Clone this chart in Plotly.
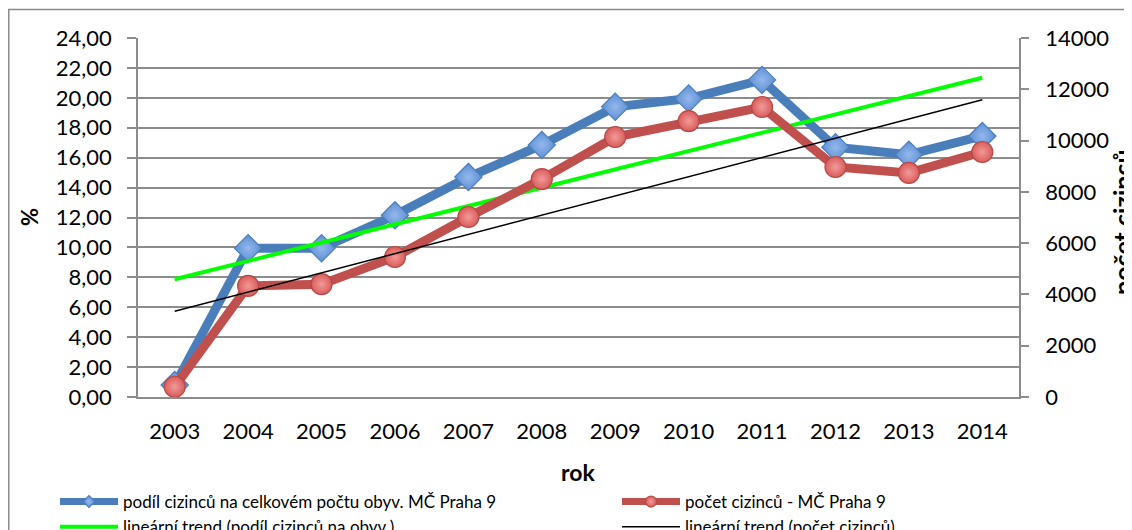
import numpy as np
import plotly.graph_objects as go

years = ["2003", "2004", "2005", "2006", "2007", "2008", "2009", "2010", "2011", "2012", "2013", "2014"]
podil = [0.80, 9.95, 9.95, 12.15, 14.70, 16.85, 19.40, 19.95, 21.20, 16.70, 16.20, 17.45]
pocet = [400, 4330, 4400, 5460, 7020, 8500, 10140, 10760, 11310, 8970, 8740, 9555]
left_ticks = [0, 2, 4, 6, 8, 10, 12, 14, 16, 18, 20, 22, 24]
right_ticks = [0, 2000, 4000, 6000, 8000, 10000, 12000, 14000]

name_podil = "podíl cizinců na celkovém počtu obyv. MČ Praha 9"
name_pocet = "počet cizinců - MČ Praha 9"
name_trend1 = "lineární trend (podíl cizinců na obyv.)"
name_trend2 = "lineární trend (počet cizinců)"

# linear trends (least squares) from the series
idx = np.arange(len(years))
k1, q1 = np.polyfit(idx, podil, 1)
k2, q2 = np.polyfit(idx, pocet, 1)
trend1 = [float(k1 * i + q1) for i in idx]
trend2 = [float(k2 * i + q2) for i in idx]

# page has an 8px body margin: figure is drawn from screen (8, 8)
OFF = 8
W, H = 1124, 522
L, R, T, B = 130, 113, 30, 133
PW, PH = W - L - R, H - T - B


def px(sx):
    return (sx - OFF - L) / PW


def py(sy):
    return (H - B - (sy - OFF)) / PH


FONT = "Lato, 'Open Sans', sans-serif"
GRID = "#8c8c8c"

blue_marker = dict(symbol="diamond", color="#5E8FD4",
                   gradient=dict(type="radial", color="#93B8EC"),
                   line=dict(color="#4A7EBB", width=1.2))
red_marker = dict(symbol="circle", color="#D85D5B",
                  gradient=dict(type="radial", color="#F29A98"),
                  line=dict(color="#B84845", width=1.2))

fig = go.Figure()
# data traces
fig.add_trace(go.Scatter(
    x=years, y=podil, name=name_podil, mode="lines+markers",
    line=dict(color="#4A7EBB", width=9), marker=dict(size=21, **blue_marker),
    yaxis="y", showlegend=False))
fig.add_trace(go.Scatter(
    x=years, y=pocet, name=name_pocet, mode="lines+markers",
    line=dict(color="#C0504D", width=9), marker=dict(size=21, **red_marker),
    yaxis="y2", showlegend=False))
fig.add_trace(go.Scatter(
    x=years, y=trend1, name=name_trend1, mode="lines",
    line=dict(color="#00FF00", width=4), yaxis="y", showlegend=False))
fig.add_trace(go.Scatter(
    x=years, y=trend2, name=name_trend2, mode="lines",
    line=dict(color="#000000", width=1.5), yaxis="y2", showlegend=False))

# legend entries (smaller legend symbols, as in the reference)
fig.add_trace(go.Scatter(x=[None], y=[None], name=name_podil, mode="lines+markers",
                         line=dict(color="#4A7EBB", width=7), marker=dict(size=9, **blue_marker),
                         legend="legend"))
fig.add_trace(go.Scatter(x=[None], y=[None], name=name_trend1, mode="lines",
                         line=dict(color="#00FF00", width=4), legend="legend"))
fig.add_trace(go.Scatter(x=[None], y=[None], name=name_pocet, mode="lines+markers",
                         line=dict(color="#C0504D", width=7), marker=dict(size=11, **red_marker),
                         legend="legend2"))
fig.add_trace(go.Scatter(x=[None], y=[None], name=name_trend2, mode="lines",
                         line=dict(color="#000000", width=1.5), legend="legend2"))

legend_common = dict(orientation="v", xanchor="left", yanchor="top",
                     font=dict(size=17, family=FONT, color="black"),
                     itemwidth=58, bgcolor="rgba(0,0,0,0)", traceorder="normal",
                     tracegroupgap=0, borderwidth=0)

fig.update_layout(
    width=W, height=H,
    margin=dict(l=L, r=R, t=T, b=B, pad=0, autoexpand=False),
    paper_bgcolor="white", plot_bgcolor="white",
    separators=", ",
    font=dict(family=FONT, size=22, color="black"),
    xaxis=dict(type="category", range=[-0.5, 11.5], showgrid=False,
               showline=True, linecolor=GRID, linewidth=1.5,
               ticks="", ticklabelstandoff=14,
               tickfont=dict(size=22, family=FONT), zeroline=False),
    yaxis=dict(range=[0, 24], tickvals=left_ticks, tickformat=".2f",
               showgrid=True, gridcolor=GRID, gridwidth=1.5,
               showline=True, linecolor=GRID, linewidth=1.5,
               ticks="outside", ticklen=9, tickcolor=GRID, tickwidth=1.5,
               ticklabelstandoff=11, zeroline=False,
               tickfont=dict(size=22, family=FONT)),
    yaxis2=dict(range=[0, 14000], tickvals=right_ticks, tickformat="d",
                overlaying="y", side="right", showgrid=False,
                showline=True, linecolor=GRID, linewidth=1.5,
                ticks="outside", ticklen=8, tickcolor=GRID, tickwidth=1.5,
                ticklabelstandoff=12, zeroline=False,
                tickfont=dict(size=22, family=FONT)),
    legend=dict(x=px(55), y=py(484), **legend_common),
    legend2=dict(x=px(617), y=py(484), **legend_common),
    showlegend=True,
)

fig.add_annotation(text="<b>%</b>", x=px(29), y=py(217), xref="paper", yref="paper",
                   showarrow=False, textangle=-90, font=dict(size=22, family=FONT),
                   xanchor="center", yanchor="middle")
fig.add_annotation(text="<b>rok</b>", x=px(578), y=py(472), xref="paper", yref="paper",
                   showarrow=False, font=dict(size=23, family=FONT),
                   xanchor="center", yanchor="middle")
fig.add_annotation(text="<b>počet cizinců</b>", x=px(1122), y=py(223), xref="paper", yref="paper",
                   showarrow=False, textangle=-90, font=dict(size=25, family=FONT),
                   xanchor="center", yanchor="middle")

fig.add_shape(type="rect", xref="paper", yref="paper",
              x0=px(8.75), x1=px(1150), y0=py(560), y1=py(9.5),
              line=dict(color="#8a8a8a", width=1.5), fillcolor="rgba(0,0,0,0)", layer="below")

fig.write_html("out.html")
